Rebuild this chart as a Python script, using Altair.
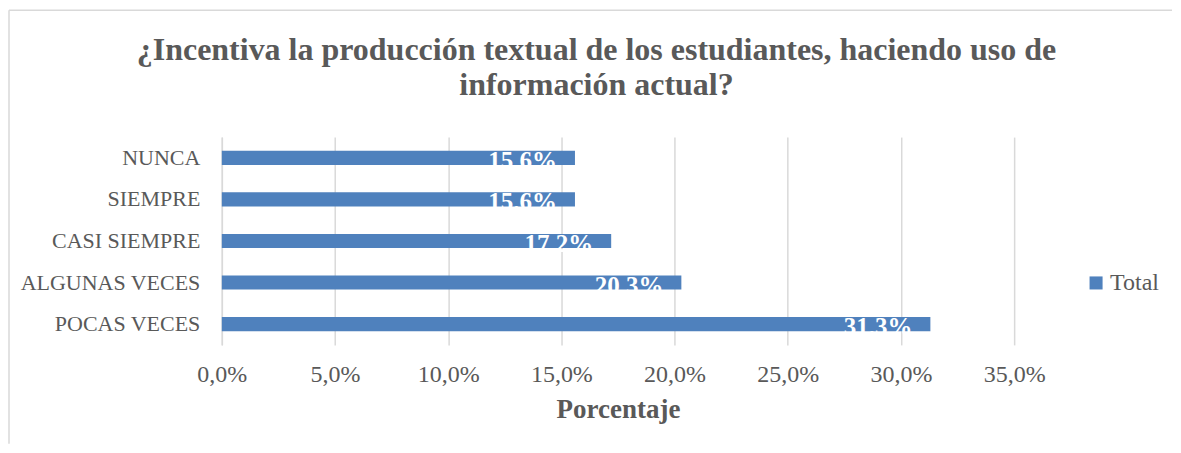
import altair as alt
import pandas as pd

categories = ["NUNCA", "SIEMPRE", "CASI SIEMPRE", "ALGUNAS VECES", "POCAS VECES"]
values = [0.156, 0.156, 0.172, 0.203, 0.313]
series = ["Total"] * 5
x_ticks = [0.0, 0.05, 0.10, 0.15, 0.20, 0.25, 0.30, 0.35]
title_text = "¿Incentiva la producción textual de los estudiantes, haciendo uso de\ninformación actual?"
x_title = "Porcentaje"

df = pd.DataFrame({"cat": categories, "val": values, "serie": series})

GRAY = "#595959"
BLUE = "#4F81BD"
GRID = "#D9D9D9"
SERIF = "Liberation Serif"

deco = alt.Data(values=[{"k": 1}])

top_line = alt.Chart(deco).mark_rule(color=GRID, strokeWidth=1.5).encode(
    x=alt.value(-213), x2=alt.value(951), y=alt.value(-127)
)
left_line = alt.Chart(deco).mark_rule(color=GRID, strokeWidth=1.5).encode(
    x=alt.value(-213), y=alt.value(-127), y2=alt.value(307)
)
title = alt.Chart(deco).mark_text(
    font=SERIF, fontSize=32, fontWeight="bold", color=GRAY, align="center",
    baseline="alphabetic", lineBreak="\n", lineHeight=35
).encode(x=alt.value(375), y=alt.value(-77), text=alt.value(title_text))

y_enc = alt.Y("cat:N", sort=categories,
              scale=alt.Scale(paddingInner=0.66, paddingOuter=0.33),
              axis=alt.Axis(title=None, ticks=False, domain=True, domainColor=GRID,
                            domainWidth=1.5, labelFont=SERIF, labelFontSize=22,
                            labelColor=GRAY, labelPadding=22, labelLimit=400))
x_enc = alt.X("val:Q", scale=alt.Scale(domain=[0, 0.35], nice=False),
              axis=alt.Axis(title=x_title, values=x_ticks,
                            labelExpr="replace(format(datum.value, '.1%'), '.', ',')",
                            grid=True, gridColor=GRID, gridWidth=1.5, domain=False,
                            ticks=False, labelFont=SERIF, labelFontSize=24,
                            labelColor=GRAY, labelPadding=18, labelFlush=False,
                            labelOverlap=False, titleFont=SERIF,
                            titleFontSize=27, titleFontWeight="bold", titleColor=GRAY,
                            titlePadding=10))

bars = alt.Chart(df).mark_bar().encode(
    y=y_enc, x=x_enc,
    color=alt.Color("serie:N", scale=alt.Scale(range=[BLUE]),
                    legend=alt.Legend(title=None, orient="none", legendX=863, legendY=134,
                                      symbolType="square", symbolSize=170,
                                      symbolStrokeWidth=0, symbolOpacity=1,
                                      labelFont=SERIF, labelFontSize=24,
                                      labelColor=GRAY, labelOffset=2))
)
labels = alt.Chart(df).mark_text(
    font=SERIF, fontSize=25, fontWeight="bold", color="white", align="right",
    baseline="alphabetic", dx=-18, dy=11
).encode(y=alt.Y("cat:N", sort=categories), x="val:Q",
         text=alt.Text("val:Q", format=".1%"))

chart = alt.layer(top_line, left_line, title, bars, labels).properties(
    width=793, height=208, padding={"left": 0, "top": 1, "right": 0, "bottom": 0}
).configure_view(strokeWidth=0)

chart.save("out.html", embed_options={"renderer": "svg", "actions": False})
